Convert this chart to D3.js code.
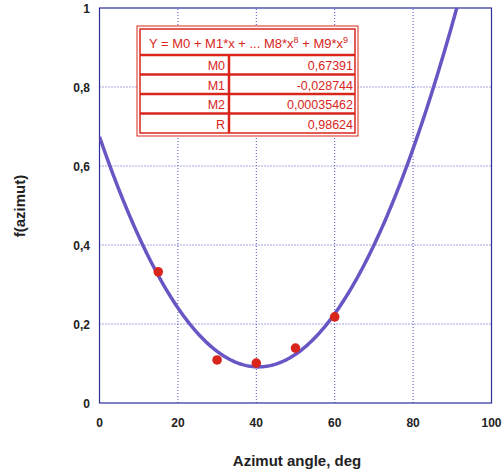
<!DOCTYPE html>
<html>
<head>
<meta charset="utf-8">
<script src="https://d3js.org/d3.v7.min.js"></script>
<style>
  body { margin: 0; background: #fff; }
  text { font-family: "Liberation Sans", Arial, sans-serif; }
</style>
</head>
<body>
<div id="chart"><svg width="502" height="473"></svg></div>
<script>
// measured points
var azimut = [15, 30, 40, 50, 60]
var fValues = [0.332, 0.109, 0.101, 0.139, 0.218]

// fit coefficients shown in the table
var coefNames = ["M0", "M1", "M2"]
var coefValues = [0.67391, -0.028744, 0.00035462]
var rName = "R"
var rValue = 0.98624

var xTicks = [0, 20, 40, 60, 80, 100]
var yTicks = [0, 0.2, 0.4, 0.6, 0.8, 1]

var svg = d3.select("#chart svg")
var blue = "#2b2f9a"
var red = "#d9261c"

var x = d3.scaleLinear().domain([0, 100]).range([99.5, 491.5])
var y = d3.scaleLinear().domain([0, 1]).range([403, 8])

var fmt = function(v) { return String(v).replace(".", ",") }

// grid
svg.append("g").selectAll("line")
    .data(xTicks.slice(1, -1))
    .enter().append("line")
    .attr("x1", function(d) { return x(d) })
    .attr("x2", function(d) { return x(d) })
    .attr("y1", y(0)).attr("y2", y(1))
    .attr("stroke", "#4a4fc0").attr("stroke-dasharray", "1,2")
svg.append("g").selectAll("line")
    .data(yTicks.slice(1, -1))
    .enter().append("line")
    .attr("y1", function(d) { return y(d) })
    .attr("y2", function(d) { return y(d) })
    .attr("x1", x(0)).attr("x2", x(100))
    .attr("stroke", "#4a4fc0").attr("stroke-dasharray", "1,2")

// frame
svg.append("rect")
    .attr("x", x(0)).attr("y", y(1))
    .attr("width", x(100) - x(0)).attr("height", y(0) - y(1))
    .attr("fill", "none").attr("stroke", blue).attr("stroke-width", 1.2)

// tick labels
svg.append("g").selectAll("text")
    .data(xTicks)
    .enter().append("text")
    .attr("x", function(d) { return x(d) })
    .attr("y", 427)
    .attr("text-anchor", "middle")
    .attr("font-size", 12).attr("font-weight", "bold").attr("fill", "#222")
    .text(function(d) { return d })
svg.append("g").selectAll("text")
    .data(yTicks)
    .enter().append("text")
    .attr("x", 90)
    .attr("y", function(d) { return y(d) + 5 })
    .attr("text-anchor", "end")
    .attr("font-size", 12).attr("font-weight", "bold").attr("fill", "#222")
    .text(function(d) { return fmt(d) })

// axis titles
svg.append("text")
    .attr("x", 297).attr("y", 466)
    .attr("text-anchor", "middle")
    .attr("font-size", 15).attr("font-weight", "bold").attr("fill", "#222")
    .text("Azimut angle, deg")
svg.append("text")
    .attr("transform", "translate(25,206) rotate(-90)")
    .attr("text-anchor", "middle")
    .attr("font-size", 15).attr("font-weight", "bold").attr("fill", "#222")
    .text("f(azimut)")

// fitted curve
svg.append("clipPath").attr("id", "clip")
    .append("rect")
    .attr("x", x(0)).attr("y", y(1))
    .attr("width", x(100) - x(0)).attr("height", y(0) - y(1))

var curveX = d3.range(0, 100.5, 0.5)
var fit = function(t) {
    return coefValues[0] + coefValues[1] * t + coefValues[2] * t * t
}
var line = d3.line()
    .x(function(d) { return x(d) })
    .y(function(d) { return y(fit(d)) })
svg.append("path")
    .datum(curveX)
    .attr("clip-path", "url(#clip)")
    .attr("d", line)
    .attr("fill", "none")
    .attr("stroke", "#6a55c4")
    .attr("stroke-width", 3.5)

// points
svg.append("g").selectAll("circle")
    .data(azimut)
    .enter().append("circle")
    .attr("cx", function(d) { return x(d) })
    .attr("cy", function(d, i) { return y(fValues[i]) })
    .attr("r", 4.8)
    .attr("fill", red)

// coefficient table
var tbl = svg.append("g")
var tx0 = 137, tx1 = 358, ty0 = 26, ty1 = 136, colX = 229
tbl.append("rect").attr("x", tx0).attr("y", ty0)
    .attr("width", tx1 - tx0).attr("height", ty1 - ty0)
    .attr("fill", "#fff").attr("stroke", red).attr("stroke-width", 1)
tbl.append("rect").attr("x", tx0 + 3).attr("y", ty0 + 3)
    .attr("width", tx1 - tx0 - 6).attr("height", ty1 - ty0 - 6)
    .attr("fill", "none").attr("stroke", red).attr("stroke-width", 1.5)

var header = tbl.append("text")
    .attr("x", (tx0 + tx1) / 2 + 1).attr("y", 48)
    .attr("text-anchor", "middle")
    .attr("font-size", 13).attr("fill", red)
header.append("tspan").text("Y = M0 + M1*x + ... M8*x")
header.append("tspan").attr("dy", -5).attr("font-size", 9).text("8")
header.append("tspan").attr("dy", 5).text(" + M9*x")
header.append("tspan").attr("dy", -5).attr("font-size", 9).text("9")

var rows = coefNames.map(function(n, i) { return [n, fmt(coefValues[i])] })
rows.push([rName, fmt(rValue)])
var rowY = d3.scaleLinear().domain([0, 4]).range([55, 133])

tbl.selectAll(".rl")
    .data(d3.range(4))
    .enter().append("line")
    .attr("x1", tx0 + 3).attr("x2", tx1 - 3)
    .attr("y1", function(d) { return rowY(d) })
    .attr("y2", function(d) { return rowY(d) })
    .attr("stroke", red).attr("stroke-width", 2.5)
tbl.append("line")
    .attr("x1", colX).attr("x2", colX)
    .attr("y1", rowY(0)).attr("y2", rowY(4))
    .attr("stroke", red).attr("stroke-width", 2.5)

tbl.selectAll(".rn")
    .data(rows)
    .enter().append("text")
    .attr("x", colX - 4)
    .attr("y", function(d, i) { return rowY(i) + 15 })
    .attr("text-anchor", "end")
    .attr("font-size", 12.5).attr("fill", red)
    .text(function(d) { return d[0] })
tbl.selectAll(".rv")
    .data(rows)
    .enter().append("text")
    .attr("x", tx1 - 5)
    .attr("y", function(d, i) { return rowY(i) + 15 })
    .attr("text-anchor", "end")
    .attr("font-size", 12.5).attr("fill", red)
    .text(function(d) { return d[1] })
</script>
</body>
</html>
